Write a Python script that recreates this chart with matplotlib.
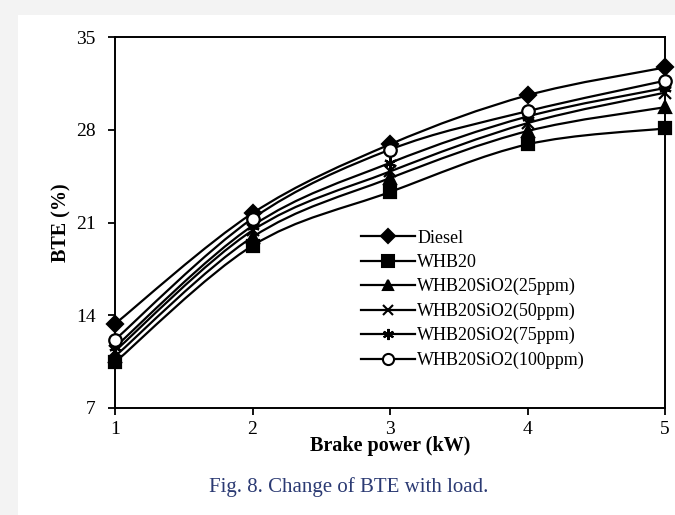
import numpy as np
import matplotlib.pyplot as plt
from matplotlib.path import Path
from matplotlib.patches import PathPatch, Rectangle
from matplotlib.lines import Line2D

plt.rcParams['font.family'] = ['Liberation Serif', 'DejaVu Serif']

load = [1, 2, 3, 4, 5]
series_names = ['Diesel', 'WHB20', 'WHB20SiO2(25ppm)', 'WHB20SiO2(50ppm)',
                'WHB20SiO2(75ppm)', 'WHB20SiO2(100ppm)']
diesel = [13.35, 21.7, 26.9, 30.6, 32.7]
whb20 = [10.45, 19.25, 23.3, 26.9, 28.1]
sio2_25 = [10.9, 19.9, 24.35, 27.9, 29.7]
sio2_50 = [11.3, 20.4, 24.85, 28.5, 30.8]
sio2_75 = [11.6, 20.75, 25.5, 29.0, 31.15]
sio2_100 = [12.15, 21.3, 26.5, 29.4, 31.7]
all_series = [diesel, whb20, sio2_25, sio2_50, sio2_75, sio2_100]

markers = ['D', 's', '^', 'x', (6, 2, 0), 'o']
msizes = [8, 9, 8, 8, 9, 9]
mfaces = ['black', 'black', 'black', 'black', 'black', 'white']


def smooth_path(x, y):
    # Excel-style smoothed line: Catmull-Rom segments as cubic beziers
    x = np.asarray(x, float)
    y = np.asarray(y, float)
    verts = [(x[0], y[0])]
    codes = [Path.MOVETO]
    n = len(x)
    for i in range(n - 1):
        p0 = np.array([x[max(i - 1, 0)], y[max(i - 1, 0)]])
        p1 = np.array([x[i], y[i]])
        p2 = np.array([x[i + 1], y[i + 1]])
        p3 = np.array([x[min(i + 2, n - 1)], y[min(i + 2, n - 1)]])
        c1 = p1 + (p2 - p0) / 6.0
        c2 = p2 - (p3 - p1) / 6.0
        verts += [tuple(c1), tuple(c2), tuple(p2)]
        codes += [Path.CURVE4] * 3
    return Path(verts, codes)


fig = plt.figure(figsize=(6.75, 5.15), dpi=100, facecolor='#f3f3f3')
fig.patches.append(Rectangle((18 / 675, 0), 1, 1 - 15 / 515, transform=fig.transFigure,
                             facecolor='white', edgecolor='none', zorder=-5))
ax = fig.add_axes([115 / 675, 1 - 408 / 515, 550 / 675, 371 / 515])

for vals, m, ms, mf in zip(all_series, markers, msizes, mfaces):
    ax.add_patch(PathPatch(smooth_path(load, vals), facecolor='none',
                           edgecolor='black', lw=1.6, zorder=2))
    ax.plot(load, vals, ls='none', marker=m, ms=ms, color='black',
            markerfacecolor=mf, markeredgewidth=1.6, zorder=3, clip_on=False)

ax.set_xlim(1, 5)
ax.set_ylim(7, 35)
ax.set_xticks(load)
ax.set_yticks([7, 14, 21, 28, 35])
ax.tick_params(direction='out', length=5, width=1.3, labelsize=14)
ax.tick_params(axis='y', pad=9)
ax.tick_params(axis='x', pad=4)
for s in ax.spines.values():
    s.set_linewidth(1.4)

ax.set_xlabel('Brake power (kW)', fontsize=14.5, fontweight='bold', labelpad=-1)
ax.set_ylabel('BTE (%)', fontsize=14.5, fontweight='bold', labelpad=3)

handles = [Line2D([], [], color='black', lw=1.6, marker=m, ms=ms - 1,
                  markerfacecolor=mf, markeredgewidth=1.5)
           for m, ms, mf in zip(markers, msizes, mfaces)]
ax.legend(handles, series_names, loc='upper left', bbox_to_anchor=(0.43, 0.505),
          frameon=False, fontsize=13, handlelength=3.0, handletextpad=0.15,
          labelspacing=0.4, borderpad=0)

fig.text(349 / 675, 1 - 487 / 515, 'Fig. 8. Change of BTE with load.',
         ha='center', va='center', fontsize=15, color='#2b3a73')

fig.savefig('out.png', dpi=100, facecolor=fig.get_facecolor())
